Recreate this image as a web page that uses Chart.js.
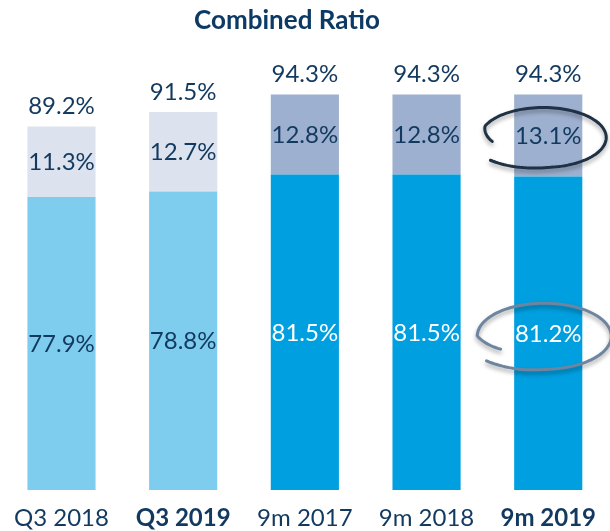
<!DOCTYPE html>
<html><head><meta charset="utf-8">
<script src="https://cdn.jsdelivr.net/npm/chart.js@4/dist/chart.umd.min.js"></script>
<style>html,body{margin:0;padding:0;background:#fff;}#wrap{width:610px;height:531px;position:relative;}</style>
</head><body><div id="wrap"><canvas id="c"></canvas></div>
<script>
const chartTitle = 'Combined Ratio';
const categories = ['Q3 2018', 'Q3 2019', '9m 2017', '9m 2018', '9m 2019'];
const boldCategories = [false, true, false, false, true];
const baseValues = [77.9, 78.8, 81.5, 81.5, 81.2];
const topValues = [11.3, 12.7, 12.8, 12.8, 13.1];
const totals = [89.2, 91.5, 94.3, 94.3, 94.3];
const circledIndex = 4;

const NAVY = '#12395f';
const FONT = 'Lato, "Open Sans", sans-serif';
const baseColors = ['#7fcdee', '#7fcdee', '#009fe0', '#009fe0', '#009fe0'];
const topColors = ['#dde3ee', '#dde3ee', '#9eb0cf', '#9eb0cf', '#9eb0cf'];
const baseLabelColors = [NAVY, NAVY, '#ffffff', '#ffffff', '#ffffff'];
const barClip = { left: false, right: false, top: false, bottom: 0 };

function fmt(v) { return v.toFixed(1) + '%'; }

function swirl(ctx, cx, cy, rx, ry, a0, a1, kStart, kEnd, color) {
  ctx.save();
  ctx.strokeStyle = color;
  ctx.lineWidth = 3;
  ctx.lineCap = 'round';
  ctx.shadowColor = 'rgba(0,0,0,0.35)';
  ctx.shadowBlur = 4;
  ctx.shadowOffsetY = 3;
  ctx.beginPath();
  const n = 120;
  for (let i = 0; i <= n; i++) {
    const t = a0 + (a1 - a0) * i / n;
    let k = 1;
    const grow = 0.55;
    if (t < a0 + grow) k = kStart + (1 - kStart) * (t - a0) / grow;
    const tail = 0.9;
    if (t > a1 - tail) k = 1 + (kEnd - 1) * (t - (a1 - tail)) / tail;
    const x = cx + rx * k * Math.cos(t);
    const y = cy + ry * k * Math.sin(t);
    if (i === 0) ctx.moveTo(x, y); else ctx.lineTo(x, y);
  }
  ctx.stroke();
  ctx.restore();
}

const labelPlugin = {
  id: 'labels',
  afterDraw(chart) {
    const ctx = chart.ctx;
    const bottom = chart.chartArea.bottom;
    const m0 = chart.getDatasetMeta(0);
    const m1 = chart.getDatasetMeta(1);
    ctx.save();
    ctx.textAlign = 'center';
    ctx.textBaseline = 'middle';
    ctx.font = '24px ' + FONT;
    m0.data.forEach((bar, i) => {
      ctx.fillStyle = baseLabelColors[i];
      ctx.fillText(fmt(baseValues[i]), bar.x, (bar.y + Math.min(bar.base, bottom)) / 2 + 1);
    });
    m1.data.forEach((bar, i) => {
      ctx.fillStyle = NAVY;
      ctx.fillText(fmt(topValues[i]), bar.x, (bar.y + bar.base) / 2 + 1);
      ctx.fillText(fmt(totals[i]), bar.x, bar.y - 20);
    });
    // title
    ctx.font = 'bold 26px ' + FONT;
    ctx.fillStyle = '#0d3a64';
    ctx.fillText(chartTitle, chart.width / 2 - 18, 21);
    ctx.restore();
    // annotation swirls on circled bar
    const bTop = m1.data[circledIndex];
    const bBase = m0.data[circledIndex];
    swirl(ctx, bTop.x - 5, (bTop.y + bTop.base) / 2 + 2, 63, 30, 2.98, 8.69, 0.82, 1.13, '#1f3145');
    swirl(ctx, bBase.x - 4, (bBase.y + Math.min(bBase.base, bottom)) / 2 + 3, 67, 33, 2.6, 8.71, 0.76, 1.14, '#6e85a0');
  }
};

new Chart(document.getElementById('c'), {
  type: 'bar',
  data: {
    labels: categories,
    datasets: [
      { data: baseValues, backgroundColor: baseColors, clip: barClip, borderWidth: 0 },
      { data: topValues, backgroundColor: topColors, clip: barClip, borderWidth: 0 }
    ]
  },
  options: {
    responsive: true,
    maintainAspectRatio: false,
    animation: false,
    events: [],
    categoryPercentage: 1,
    barPercentage: 0.56,
    layout: { padding: { top: 59, left: 60, right: 49, bottom: 0 } },
    plugins: { legend: { display: false }, tooltip: { enabled: false }, title: { display: false } },
    scales: {
      x: {
        stacked: true,
        offset: false,
        border: { display: false },
        grid: { display: false, drawTicks: false },
        afterFit: (scale) => { scale.height = 41; },
        ticks: {
          autoSkip: false,
          maxRotation: 0,
          padding: 14,
          color: NAVY,
          font: (c) => ({ family: FONT, size: 24, lineHeight: 1.2, weight: boldCategories[c.index] ? 'bold' : 'normal' })
        }
      },
      y: {
        stacked: true,
        display: false,
        min: 31,
        max: 100
      }
    }
  },
  plugins: [labelPlugin]
});
</script></body></html>
